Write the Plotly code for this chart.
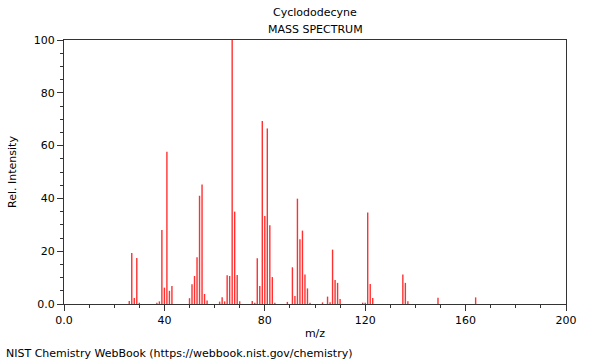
import plotly.graph_objects as go

mz = [26, 27, 28, 29, 30,
      37, 38, 39, 40, 41, 42, 43,
      50, 51, 52, 53, 54, 55, 56, 57,
      62, 63, 64, 65, 66, 67, 68, 69, 70,
      75, 76, 77, 78, 79, 80, 81, 82, 83, 84,
      89, 91, 92, 93, 94, 95, 96, 97, 98,
      103, 105, 106, 107, 108, 109, 110,
      119, 120, 121, 122, 123,
      135, 136, 137,
      149, 164]
intensity = [1.1, 19.3, 2.3, 17.4, 0.5,
             0.5, 1.0, 28.0, 6.2, 57.7, 5.0, 6.8,
             2.2, 7.5, 10.6, 17.7, 41.0, 45.3, 3.8, 1.3,
             0.9, 2.6, 1.0, 10.9, 10.6, 100.0, 35.0, 11.0, 1.0,
             1.1, 0.5, 17.3, 6.8, 69.3, 33.3, 66.5, 29.8, 10.2, 0.5,
             0.8, 13.9, 3.0, 39.9, 24.5, 27.8, 11.2, 5.9, 0.5,
             0.6, 2.8, 0.7, 20.6, 9.1, 8.0, 1.9,
             0.5, 0.5, 34.7, 7.6, 2.3,
             11.2, 8.0, 1.0,
             2.4, 2.5]

x_tickvals = [0, 40, 80, 120, 160, 200]
x_ticktext = ["0.0", "40", "80", "120", "160", "200"]
y_tickvals = [0, 20, 40, 60, 80, 100]
y_ticktext = ["0.0", "20", "40", "60", "80", "100"]

xs, ys = [], []
for m, v in zip(mz, intensity):
    xs += [m, m, None]
    ys += [0, v, None]

FONT = "DejaVu Sans"
AX = "#333333"

fig = go.Figure()
fig.add_trace(go.Scatter(x=xs, y=ys, mode="lines",
                         line=dict(color="#ff3030", width=1.4),
                         hoverinfo="skip", showlegend=False))

axis_common = dict(showgrid=False, zeroline=False, showline=True, linecolor=AX,
                   linewidth=1, mirror=True, ticks="outside", ticklen=6,
                   tickcolor=AX, tickwidth=1,
                   tickfont=dict(family=FONT, size=11, color="#000"))

fig.update_xaxes(range=[0, 200], tickmode="array", tickvals=x_tickvals,
                 ticktext=x_ticktext,
                 minor=dict(dtick=10, tick0=0, ticks="outside", ticklen=3,
                            tickcolor=AX, showgrid=False),
                 title=dict(text="m/z", font=dict(family=FONT, size=11, color="#000"),
                            standoff=3),
                 **axis_common)
fig.update_yaxes(range=[0, 100], tickmode="array", tickvals=y_tickvals,
                 ticktext=y_ticktext,
                 minor=dict(dtick=5, tick0=0, ticks="outside", ticklen=3,
                            tickcolor=AX, showgrid=False),
                 title=dict(text="Rel. Intensity", font=dict(family=FONT, size=11, color="#000"),
                            standoff=14),
                 **axis_common)

fig.update_layout(
    width=600, height=360,
    margin=dict(l=62, r=34, t=40, b=56),
    paper_bgcolor="white", plot_bgcolor="white",
    font=dict(family=FONT, size=11, color="#000"),
    annotations=[
        dict(text="Cyclododecyne", x=0.5, y=1, xref="paper", yref="paper",
             yshift=19, showarrow=False, xanchor="center", yanchor="bottom",
             font=dict(family=FONT, size=11, color="#000")),
        dict(text="MASS SPECTRUM", x=0.5, y=1, xref="paper", yref="paper",
             yshift=2, showarrow=False, xanchor="center", yanchor="bottom",
             font=dict(family=FONT, size=11, color="#000")),
        dict(text="NIST Chemistry WebBook (https://webbook.nist.gov/chemistry)",
             x=0, y=0, xref="paper", yref="paper", showarrow=False,
             xanchor="left", yanchor="middle", xshift=-60, yshift=-49,
             font=dict(family=FONT, size=11, color="#000")),
    ],
)

fig.write_html("out.html", config={"displayModeBar": False},
               post_script="document.body.style.margin='0';")
